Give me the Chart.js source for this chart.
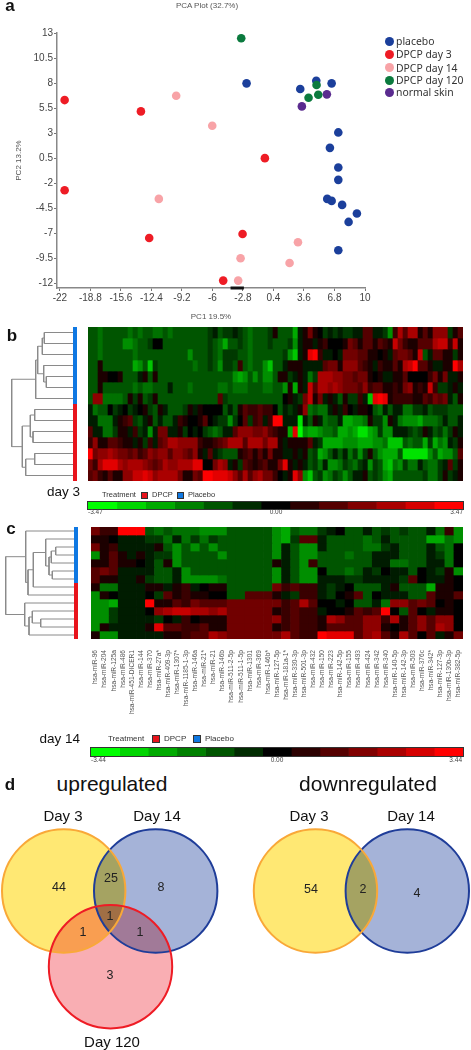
<!DOCTYPE html>
<html>
<head>
<meta charset="utf-8">
<title>miRNA PCA, heatmaps and Venn diagrams</title>
<script src="https://cdn.jsdelivr.net/npm/chart.js@4"></script>
<style>
    html, body { margin: 0; padding: 0; background: #fff; }
    #page { position: relative; width: 471px; height: 1050px; overflow: hidden; font-family: "Liberation Sans", Arial, sans-serif; }
    #page canvas { position: absolute; }
    .txt { position: absolute; white-space: nowrap; line-height: 1; }
    .swatch { position: absolute; }
</style>
</head>
<body>
<div id="page"></div>
<script>
// ---- panel a: PCA points
const seriesNames = ['placebo', 'DPCP day 3', 'DPCP day 14', 'DPCP day 120', 'normal skin'];
const seriesColors = ['#1b3f9b', '#ee1c25', '#f8a3a7', '#0b7a3e', '#5a2b8f'];
const placeboX = [-2.42, 4.89, 6.5, 3.21, 7.2, 6.32, 7.2, 7.2, 6.04, 6.5, 7.6, 9.15, 8.28, 7.2];
const placeboY = [7.97, 8.23, 7.97, 7.4, 3.07, 1.53, -0.43, -1.67, -3.57, -3.77, -4.17, -5.03, -5.87, -8.7];
const day3X = [-21.5, -13.5, -0.5, -21.5, -12.63, -2.84, -4.87];
const day3Y = [6.3, 5.17, 0.5, -2.7, -7.47, -7.07, -11.73];
const day14X = [-9.8, -6.02, -11.62, 2.97, -3.05, 2.09, -3.3];
const day14Y = [6.73, 3.73, -3.57, -7.9, -9.5, -9.97, -11.73];
const day120X = [-2.98, 4.92, 5.1, 4.08];
const day120Y = [12.47, 7.8, 6.83, 6.53];
const normalX = [6.0, 3.38];
const normalY = [6.87, 5.67];
const pcaXTicks = [-22, -18.8, -15.6, -12.4, -9.2, -6, -2.8, 0.4, 3.6, 6.8, 10];
const pcaYTicks = [13, 10.5, 8, 5.5, 3, 0.5, -2, -4.5, -7, -9.5, -12];
const axisMarkX = [-4.1, -2.7];

// ---- panel b: day 3 heatmap, levels -9..9 (9 = 3.47), 14 rows of 75 columns
const heatB = [
    [-3,-3,-4,-3,-3,-3,-3,-3,-4,-3,-4,-3,-3,-4,-4,-3,-4,-3,-3,-3,-3,-3,-3,-3,-2,-1,-3,-2,-2,-1,-2,-3,-4,-3,-3,-3,-2,1,-3,-3,-3,-6,-1,1,4,1,0,-2,-1,-2,-1,-2,-2,-1,-1,3,3,-1,-1,-2,-5,2,6,3,6,6,1,3,1,5,5,5,-2,1,3],
    [-3,-3,-4,-3,-3,-3,-3,-5,-5,-4,-3,-3,-2,0,0,-3,-3,-3,-3,-3,-3,-3,-3,-3,-2,-3,-4,-6,-3,-3,-2,-3,-4,-3,-3,-3,-2,-3,-3,-3,-2,-5,-1,1,1,-1,1,2,0,0,0,1,4,3,1,3,3,1,3,2,1,7,4,2,1,1,3,3,3,6,7,7,2,7,1],
    [-3,-3,-4,-3,-3,-3,-3,-3,-3,-4,-3,-3,-3,-3,-3,-3,-3,-3,-3,-3,-5,-3,-3,-3,-2,-3,-4,-2,-2,-2,-3,-3,-4,-3,-3,-3,-3,-3,-3,-2,-5,-7,-1,1,8,9,2,-1,-1,0,-1,4,4,4,3,3,1,1,0,1,-1,3,4,4,3,1,7,-3,-1,3,3,1,1,-2,1],
    [-3,-3,1,-3,-3,-3,-3,-3,-3,-6,-5,-3,-7,-2,-3,-3,-3,-3,-3,-3,-3,-4,-3,-3,-2,-3,-5,-2,-2,-3,2,-3,-4,-3,-3,-5,-7,-3,-3,-1,1,1,1,-1,-1,-1,-1,3,4,4,1,5,5,5,3,2,1,-1,2,1,1,3,1,6,7,9,3,3,1,-1,-1,1,1,9,6],
    [-3,-3,1,1,0,0,1,-3,-3,-3,-1,1,-3,1,-3,-3,-3,-3,-3,-3,-3,-3,-3,-3,-3,-3,-3,-3,-3,-5,-6,-5,-3,-5,-3,-5,-5,-3,1,1,-2,-1,1,-1,-4,-2,6,6,6,5,5,4,4,3,4,4,1,0,1,-1,-1,1,1,3,0,0,0,0,2,4,1,4,-1,-1,1],
    [-3,-3,1,-3,-3,-3,-3,-3,-3,-4,-3,-4,-4,-3,-3,-3,-1,-3,-3,-3,-4,-3,-3,-3,-3,-3,-4,-4,-3,-4,-4,-4,-3,-3,-3,-4,-4,-3,-3,-5,1,-6,1,-1,7,3,6,6,5,6,5,4,4,4,3,5,2,3,3,1,1,2,1,4,5,1,2,1,7,2,-2,-2,-1,1,-1],
    [-3,5,5,-4,-4,-4,-4,-3,1,-2,1,-3,-2,1,-3,-3,-3,-3,-3,-3,-3,-3,-3,-3,-3,-3,3,-2,-3,-3,-3,-3,-3,-3,-3,-3,-3,-3,-3,0,1,-1,-2,4,7,1,4,-1,1,-1,-3,1,-2,-2,2,-1,-7,8,9,8,1,2,2,2,2,1,1,3,2,4,3,4,-1,-3,1],
    [-1,-4,-3,-3,0,-2,-1,0,-2,-1,0,1,-2,-3,1,-1,-3,-3,-3,-2,1,-1,1,0,0,0,0,-3,-1,-3,1,3,2,2,3,2,2,0,-3,-1,-2,-1,1,5,-4,-3,-4,-4,-1,1,-1,2,0,-1,1,1,0,-3,-4,-1,-3,-1,-1,-4,-4,-2,-2,-1,-3,-2,-2,-2,-3,-3,-3],
    [-1,-1,-4,-4,-4,-1,1,2,3,-2,-3,-1,1,-3,-1,-3,-3,-1,2,1,0,0,1,3,0,-1,-2,-2,-5,-2,0,3,-2,2,3,-1,2,9,9,-1,-1,-1,-8,-1,-3,1,-1,-4,-3,-3,-1,-6,-6,-5,-5,-4,1,-2,-2,-5,1,-1,-4,-5,-5,-5,-6,-4,-4,-4,-3,-1,-3,-3,-1],
    [3,-1,-1,-4,-4,-2,1,1,-1,2,-2,-1,-5,-1,4,4,-1,-1,1,-2,0,-1,0,-2,-3,-4,-3,-1,-1,3,5,5,5,4,4,5,3,2,1,1,-6,8,-9,-5,-6,-6,-5,-4,-4,-3,-6,-6,-5,-6,-8,-8,-6,-5,-2,-5,-5,-1,-1,-1,-2,-3,-2,1,-1,-3,-2,-4,-2,1,-1],
    [2,5,1,1,3,3,2,1,1,-1,1,-2,2,-1,3,4,6,6,5,5,5,5,2,1,1,2,3,4,6,6,6,3,6,6,6,4,6,6,1,-1,1,1,1,1,3,-1,-2,-6,-6,-6,-6,-5,-5,-5,-6,-6,-6,-5,-5,-4,-7,-7,-7,-3,-4,-3,-3,-6,-2,-6,-4,-5,-1,-2,1],
    [9,4,5,5,6,5,4,4,3,4,2,3,5,4,5,5,3,5,5,4,3,5,1,-1,3,-1,-2,-3,-3,-3,1,2,3,1,3,1,4,1,1,-1,-1,1,-1,1,-3,-2,-6,-5,-3,-1,-3,-1,-4,-2,-5,-2,1,-3,-5,-6,-6,-6,-3,-8,-8,-8,-8,-8,-5,-3,-6,-5,-5,-3,3],
    [4,2,6,8,8,8,6,5,6,6,6,5,4,3,4,6,5,5,6,6,6,8,8,0,0,4,6,5,-1,1,-2,3,2,1,2,3,1,1,4,8,1,-1,1,-1,-3,-2,-4,-1,-5,-5,-4,-2,-3,-4,-2,-1,-5,-2,-3,-6,-7,-4,-5,-2,-4,-4,-1,-3,-4,-4,-2,-1,3,-2,1],
    [3,4,2,1,3,1,1,5,5,7,7,8,7,5,6,6,6,6,4,1,1,4,3,9,9,8,8,8,7,5,3,6,3,5,6,4,4,2,0,-1,1,8,5,-5,-7,-3,-2,-5,-4,-2,-3,-5,-3,-1,-1,1,-3,-2,-3,-5,-6,-3,-3,-3,-3,-3,-3,-2,-4,-4,-2,1,-2,-1,1]
];

// ---- panel c: day 14 heatmap, levels -9..9 (9 = 3.44), 14 rows of 41 miRNAs
const mirLabels = ['hsa-miR-96','hsa-miR-204','hsa-miR-125a','hsa-miR-486','hsa-miR-451-DICER1','hsa-miR-144','hsa-miR-370','hsa-miR-27a*','hsa-miR-409-3p','hsa-miR-1307*','hsa-miR-1185-1-3p','hsa-miR-146a','hsa-miR-21*','hsa-miR-21','hsa-miR-146b','hsa-miR-511-2-5p','hsa-miR-511-1-5p','hsa-miR-1301','hsa-miR-369','hsa-miR-146b*','hsa-miR-127-5p','hsa-miR-181a-1*','hsa-miR-330-3p','hsa-miR-501-3p','hsa-miR-432','hsa-miR-150','hsa-miR-223','hsa-miR-142-5p','hsa-miR-155','hsa-miR-493','hsa-miR-424','hsa-miR-342','hsa-miR-340','hsa-miR-140-5p','hsa-miR-142-3p','hsa-miR-503','hsa-miR-376c','hsa-miR-342*','hsa-miR-127-3p','hsa-miR-130b-3p','hsa-miR-382-5p'];
const heatC = [
    [4,2,2,9,9,9,-3,-4,-3,-4,-4,-4,-5,-5,-5,-3,-3,-3,-3,-3,-5,-6,-3,-4,-4,-2,-1,0,-3,-3,-1,-3,-2,-3,-2,-3,-3,-1,-4,2,-5],
    [1,1,0,-1,-1,-1,-2,-2,-4,-1,-4,-2,-4,-2,-3,-3,-3,-3,-3,-3,-5,-6,-2,3,3,-1,-3,-3,-3,-3,-4,-3,-1,-3,-3,-3,-3,-6,-6,-4,-5],
    [4,1,2,-1,-1,-1,-1,1,-3,-5,-3,-5,-3,-5,-3,-3,-3,-3,-3,-3,-5,-1,-3,-5,-5,-1,-3,-3,-3,-3,-4,-4,-2,-1,-3,-3,-3,-1,-3,-4,0],
    [-5,1,3,1,-1,1,-1,-2,-2,-5,-3,-3,-3,-3,-5,-3,-3,-3,-3,-3,-5,-1,-3,-5,-5,-3,-3,-3,-4,-3,-3,-1,-1,-1,-3,-3,-3,-1,-2,-4,0],
    [1,1,3,1,1,0,-1,-3,1,-5,-3,-3,-3,-3,-3,-3,-3,-3,-3,-3,1,-1,-3,-5,2,-3,-3,-3,-3,-3,-3,-1,-1,-4,-4,-3,-3,-1,-1,-4,0],
    [3,4,3,-1,-1,-1,-1,-3,-3,-1,-5,-3,-3,-3,-3,-3,-3,-3,-3,-3,-5,-1,-3,-5,-5,0,-3,-3,-4,-3,-1,-2,0,-1,-1,-3,0,-1,-2,1,-5],
    [3,1,1,-1,-1,1,-2,-3,-3,-1,-5,-5,-5,-5,-4,-3,-3,-3,-3,-3,-5,-1,-3,-5,-5,-1,-1,-1,-2,-2,-1,-1,-1,-1,-2,3,0,-1,-1,1,0],
    [1,-4,-4,-1,-1,-1,1,1,-1,1,2,-1,0,1,1,-3,-3,-3,-3,-3,4,2,3,2,2,-1,-2,-1,0,-3,-3,-3,-1,1,-3,-3,-3,-6,1,1,0],
    [-5,1,0,-1,-1,-1,0,-2,3,1,2,1,1,0,0,-3,-3,3,3,3,1,-1,-2,2,2,-1,-2,0,1,3,-3,0,-1,-1,-1,-3,-3,3,1,1,3],
    [-5,-5,-6,-1,-1,-1,9,1,1,3,2,4,3,3,3,4,4,4,4,4,4,2,3,6,3,0,0,-1,0,-3,-3,-1,-4,5,5,3,4,3,0,1,0],
    [-5,-5,-2,-1,-1,-1,0,5,6,7,7,6,6,5,6,4,4,4,4,4,1,2,3,2,2,-1,0,0,1,3,2,3,9,0,-3,3,0,-1,1,1,0],
    [-5,-5,-2,-1,-1,-1,-1,-2,0,-1,2,0,1,1,1,4,4,4,4,4,5,2,3,2,2,1,6,5,3,3,5,5,2,6,1,3,5,3,5,5,0],
    [-5,1,-1,-1,-1,-1,1,8,3,3,2,2,3,1,1,4,4,4,4,4,1,2,3,2,2,1,3,3,3,3,5,5,1,0,1,3,5,3,6,5,0],
    [1,-5,-5,-1,-1,-1,-1,-1,1,1,2,3,3,6,5,4,4,4,4,4,4,6,3,2,2,9,8,8,8,3,5,6,3,1,6,3,0,3,-1,1,4]
];
const colorSteps = [-9, -7.5, -6, -4.5, -3, -1.5, 0, 1.5, 3, 4.5, 6, 7.5, 9];

// dendrograms: [height, left child, right child], child >= 0 is a leaf row, child < 0 is merge -(i + 1)
const dendroB = [
    [28.7, 0, 1], [30.7, -1, 2], [26.7, 4, 5], [29.3, 3, -3], [35.3, -2, -4], [37.3, -5, 6],
    [38.3, 7, 8], [40, 9, 10], [42.7, -7, -8], [38.3, 11, 12], [47.3, -10, 13], [50.7, -9, -11], [61.3, -6, -12]
];
const dendroC = [
    [18.3, 2, 3], [22.7, -1, 4], [21.7, 5, 6], [25, -2, -3], [28.3, 1, -4], [40.7, -5, 7], [46, -6, 8],
    [48.3, 0, -7], [33.3, 11, 12], [41.7, 10, -9], [45, -10, 13], [49.3, 9, -11], [68.3, -8, -12]
];

// ---- panel d: Venn circles, in page pixels
const vennNames = ['Day 14', 'Day 3', 'Day 120', 'Day 14', 'Day 3'];
const vennX = [155.7, 63.7, 110.5, 407.3, 315.5];
const vennY = [891, 891, 966.7, 891, 891];
const vennR = [61.7, 61.7, 61.7, 61.7, 61.7];
const vennFill = ['#a5b3d8', '#ffe873', '#f9aeb3', '#a5b3d8', '#ffe873'];
const vennRing = ['#1f3d99', '#f9a838', '#ee1c25', '#1f3d99', '#f9a838'];
const vennCounts = ['44', '25', '8', '1', '1', '1', '3', '54', '2', '4'];
const vennCountX = [59, 111, 161, 110, 83, 140, 110, 311, 363, 417];
const vennCountY = [887, 878, 887, 916, 932, 932, 975, 889, 889, 893];

const page = document.getElementById('page');

function addCanvas(left, top, width, height) {
    const c = document.createElement('canvas');
    c.width = width;
    c.height = height;
    c.style.left = left + 'px';
    c.style.top = top + 'px';
    c.style.width = width + 'px';
    c.style.height = height + 'px';
    page.appendChild(c);
    return c;
}

function addText(str, x, y, size, opts) {
    opts = opts || {};
    const d = document.createElement('div');
    d.className = 'txt';
    d.textContent = str;
    d.style.left = x + 'px';
    d.style.top = y + 'px';
    d.style.fontSize = size + 'px';
    d.style.color = opts.color || '#111';
    if (opts.bold) d.style.fontWeight = 'bold';
    if (opts.font) d.style.fontFamily = opts.font;
    const tx = opts.anchor === 'l' ? '0' : opts.anchor === 'r' ? '-100%' : '-50%';
    d.style.transform = 'translate(' + tx + ',-50%)';
    page.appendChild(d);
}

function addSwatch(x, y, w, h, color, round) {
    const d = document.createElement('div');
    d.className = 'swatch';
    d.style.left = x + 'px';
    d.style.top = y + 'px';
    d.style.width = w + 'px';
    d.style.height = h + 'px';
    d.style.background = color;
    if (round) d.style.borderRadius = '50%';
    else d.style.outline = '0.5px solid #333';
    page.appendChild(d);
}

function levelColor(level) {
    const v = Math.round(Math.abs(level) / 9 * 255);
    return level < 0 ? 'rgb(0,' + v + ',0)' : 'rgb(' + v + ',0,0)';
}

function toPoints(xs, ys) {
    return xs.map((x, i) => ({ x: x, y: ys[i] }));
}

// ---- panel a
const pcaPoints = [
    toPoints(placeboX, placeboY), toPoints(day3X, day3Y), toPoints(day14X, day14Y),
    toPoints(day120X, day120Y), toPoints(normalX, normalY)
];
const axisBottom = -12.47;
const pcaSets = pcaPoints.map((pts, i) => ({
    label: seriesNames[i],
    data: pts,
    backgroundColor: seriesColors[i],
    borderWidth: 0,
    pointRadius: 4.3,
    order: i === 3 ? 0 : 1,
    clip: false
}));
pcaSets.push({
    type: 'line',
    data: toPoints(axisMarkX, [axisBottom, axisBottom]),
    borderColor: '#111',
    borderWidth: 3,
    pointRadius: 0,
    order: 2,
    clip: false
});

new Chart(addCanvas(0, 0, 471, 325), {
    type: 'scatter',
    data: { datasets: pcaSets },
    options: {
        responsive: false,
        animation: false,
        layout: { padding: { top: 33, right: 106 } },
        plugins: { legend: { display: false }, tooltip: { enabled: false } },
        scales: {
            x: {
                min: -22.3,
                max: 10,
                afterFit: s => { s.height = 37; s.paddingLeft = 0; s.paddingRight = 0; },
                afterBuildTicks: s => { s.ticks = pcaXTicks.map(v => ({ value: v })); },
                grid: { drawOnChartArea: false, tickLength: 3, color: '#777' },
                border: { color: '#888', width: 1.5 },
                ticks: { color: '#444', font: { size: 10, family: 'Liberation Sans' }, padding: 1, maxRotation: 0, autoSkip: false, callback: v => String(v) },
                title: { display: true, text: 'PC1 19.5%', color: '#555', font: { size: 8, family: 'Liberation Sans' }, padding: { top: 0, bottom: 3 } }
            },
            y: {
                min: axisBottom,
                max: 13,
                afterFit: s => { s.width = 57; s.paddingTop = 0; s.paddingBottom = 0; },
                afterBuildTicks: s => { s.ticks = pcaYTicks.map(v => ({ value: v })); },
                grid: { drawOnChartArea: false, tickLength: 3, color: '#777' },
                border: { color: '#888', width: 1.5 },
                ticks: { color: '#444', font: { size: 10, family: 'Liberation Sans' }, padding: 1, autoSkip: false, callback: v => String(v) },
                title: { display: true, text: 'PC2 13.2%', color: '#555', font: { size: 8, family: 'Liberation Sans' }, padding: { top: 14, bottom: 0 } }
            }
        }
    }
});

addText('a', 10, 5, 17, { bold: true });
addText('PCA Plot (32.7%)', 207, 6, 8, { color: '#555' });

const legendRows = [41, 54, 67.5, 80, 92];
seriesNames.forEach((name, i) => {
    addSwatch(385, legendRows[i] - 4.5, 9, 9, seriesColors[i], true);
    addText(name, 396, legendRows[i], 10.4, { anchor: 'l', color: '#333', font: '"Noto Sans", sans-serif' });
});

// ---- heatmaps are stacked bars, one dataset for every row
function drawHeatmap(canvas, rows, labels, showLabels) {
    const sets = rows.map(row => ({
        data: row.map(() => 1),
        backgroundColor: row.map(levelColor),
        barPercentage: 1,
        categoryPercentage: 1,
        borderWidth: 0
    }));
    return new Chart(canvas, {
        type: 'bar',
        data: { labels: labels, datasets: sets },
        options: {
            responsive: false,
            animation: false,
            plugins: { legend: { display: false }, tooltip: { enabled: false } },
            scales: {
                x: {
                    stacked: true,
                    display: showLabels,
                    afterFit: s => {
                        if (showLabels) s.height = 88;
                        s.paddingLeft = 0;
                        s.paddingRight = 0;
                    },
                    grid: { display: false },
                    border: { display: false },
                    ticks: { autoSkip: false, minRotation: 90, maxRotation: 90, padding: 3, color: '#555', font: { size: 6.6, family: 'Liberation Sans' } }
                },
                y: { stacked: true, display: false, reverse: true, min: 0, max: rows.length }
            }
        }
    });
}

function drawColorBar(left, top, width, height) {
    const canvas = addCanvas(left, top, width, height);
    canvas.style.outline = '0.5px solid #333';
    new Chart(canvas, {
        type: 'bar',
        data: {
            labels: [''],
            datasets: colorSteps.map(s => ({ data: [1], backgroundColor: levelColor(s), borderWidth: 0, barPercentage: 1, categoryPercentage: 1 }))
        },
        options: {
            indexAxis: 'y',
            responsive: false,
            animation: false,
            plugins: { legend: { display: false }, tooltip: { enabled: false } },
            scales: {
                x: { stacked: true, display: false, min: 0, max: colorSteps.length },
                y: { stacked: true, display: false }
            }
        }
    });
}

function drawDendrogram(canvas, merges, maxHeight) {
    const nodes = [];
    const sets = [];
    function child(ref) {
        return ref >= 0 ? { h: 0, y: ref + 0.5 } : nodes[-ref - 1];
    }
    merges.forEach(m => {
        const a = child(m[1]);
        const b = child(m[2]);
        nodes.push({ h: m[0], y: (a.y + b.y) / 2 });
        sets.push({
            data: [{ x: a.h, y: a.y }, { x: m[0], y: a.y }, { x: m[0], y: b.y }, { x: b.h, y: b.y }],
            borderColor: '#8a8a8a',
            borderWidth: 1,
            pointRadius: 0,
            showLine: true,
            tension: 0,
            clip: false
        });
    });
    sets.push({ data: [{ x: -2, y: 0 }, { x: -2, y: 7 }], borderColor: '#0f78e2', borderWidth: 4, pointRadius: 0, showLine: true, borderCapStyle: 'butt' });
    sets.push({ data: [{ x: -2, y: 7 }, { x: -2, y: 14 }], borderColor: '#e8141c', borderWidth: 4, pointRadius: 0, showLine: true, borderCapStyle: 'butt' });
    new Chart(canvas, {
        type: 'scatter',
        data: { datasets: sets },
        options: {
            responsive: false,
            animation: false,
            plugins: { legend: { display: false }, tooltip: { enabled: false } },
            scales: {
                x: { display: false, reverse: true, min: -4, max: maxHeight },
                y: { display: false, reverse: true, min: 0, max: 14 }
            }
        }
    });
}

// ---- panel b
drawHeatmap(addCanvas(88, 327, 375, 154), heatB, heatB[0].map((v, i) => String(i)), false);
drawDendrogram(addCanvas(0, 327, 77, 154), dendroB, 73);
drawColorBar(88, 502, 375, 7);
addText('b', 12, 335, 17, { bold: true });
addText('day 3', 80, 492, 13.5, { anchor: 'r' });
addText('Treatment', 102, 495, 7.5, { anchor: 'l', color: '#333' });
addSwatch(142, 493, 5, 5, '#e8141c');
addText('DPCP', 152, 495, 7.5, { anchor: 'l', color: '#333' });
addSwatch(178, 493, 5, 5, '#0f78e2');
addText('Placebo', 188, 495, 7.5, { anchor: 'l', color: '#333' });
addText('-3.47', 88, 512, 6.5, { anchor: 'l', color: '#444' });
addText('0.00', 276, 512, 6.5, { color: '#444' });
addText('3.47', 463, 512, 6.5, { anchor: 'r', color: '#444' });

// ---- panel c
drawHeatmap(addCanvas(91, 527, 372, 200), heatC, mirLabels, true);
drawDendrogram(addCanvas(0, 527, 78, 112), dendroC, 74);
drawColorBar(91, 748, 372, 8);
addText('c', 11, 528, 17, { bold: true });
addText('day 14', 80, 739, 13.5, { anchor: 'r' });
addText('Treatment', 108, 739, 8, { anchor: 'l', color: '#333' });
addSwatch(153, 736, 6, 6, '#e8141c');
addText('DPCP', 164, 739, 8, { anchor: 'l', color: '#333' });
addSwatch(194, 736, 6, 6, '#0f78e2');
addText('Placebo', 205, 739, 8, { anchor: 'l', color: '#333' });
addText('-3.44', 91, 760, 6.5, { anchor: 'l', color: '#444' });
addText('0.00', 277, 760, 6.5, { color: '#444' });
addText('3.44', 462, 760, 6.5, { anchor: 'r', color: '#444' });

// ---- panel d, fills multiply so that the overlaps darken
const multiplyFills = {
    id: 'multiplyFills',
    beforeDatasetDraw(chart, args) {
        if (args.index === 1) chart.ctx.globalCompositeOperation = 'multiply';
    },
    afterDatasetDraw(chart) {
        chart.ctx.globalCompositeOperation = 'source-over';
    }
};
const vennData = vennX.map((x, i) => ({ x: x, y: vennY[i], r: vennR[i] }));
new Chart(addCanvas(0, 800, 471, 250), {
    type: 'bubble',
    data: {
        datasets: [
            { data: vennData, backgroundColor: 'rgba(0,0,0,0)', borderColor: vennRing, borderWidth: 2, clip: false },
            { data: vennData, backgroundColor: vennFill, borderWidth: 0, clip: false }
        ]
    },
    options: {
        responsive: false,
        animation: false,
        layout: { autoPadding: false },
        plugins: { legend: { display: false }, tooltip: { enabled: false } },
        scales: {
            x: { display: false, min: 0, max: 471 },
            y: { display: false, reverse: true, min: 800, max: 1050 }
        }
    },
    plugins: [multiplyFills]
});

addText('d', 10, 784, 17, { bold: true });
addText('upregulated', 112, 783, 21);
addText('downregulated', 368, 783, 21);
addText(vennNames[1], 63, 815, 15);
addText(vennNames[0], 157, 815, 15);
addText(vennNames[2], 112, 1041, 15);
addText(vennNames[4], 309, 815, 15);
addText(vennNames[3], 411, 815, 15);
vennCounts.forEach((n, i) => addText(n, vennCountX[i], vennCountY[i], 12.5, { color: '#222' }));
</script>
</body>
</html>
